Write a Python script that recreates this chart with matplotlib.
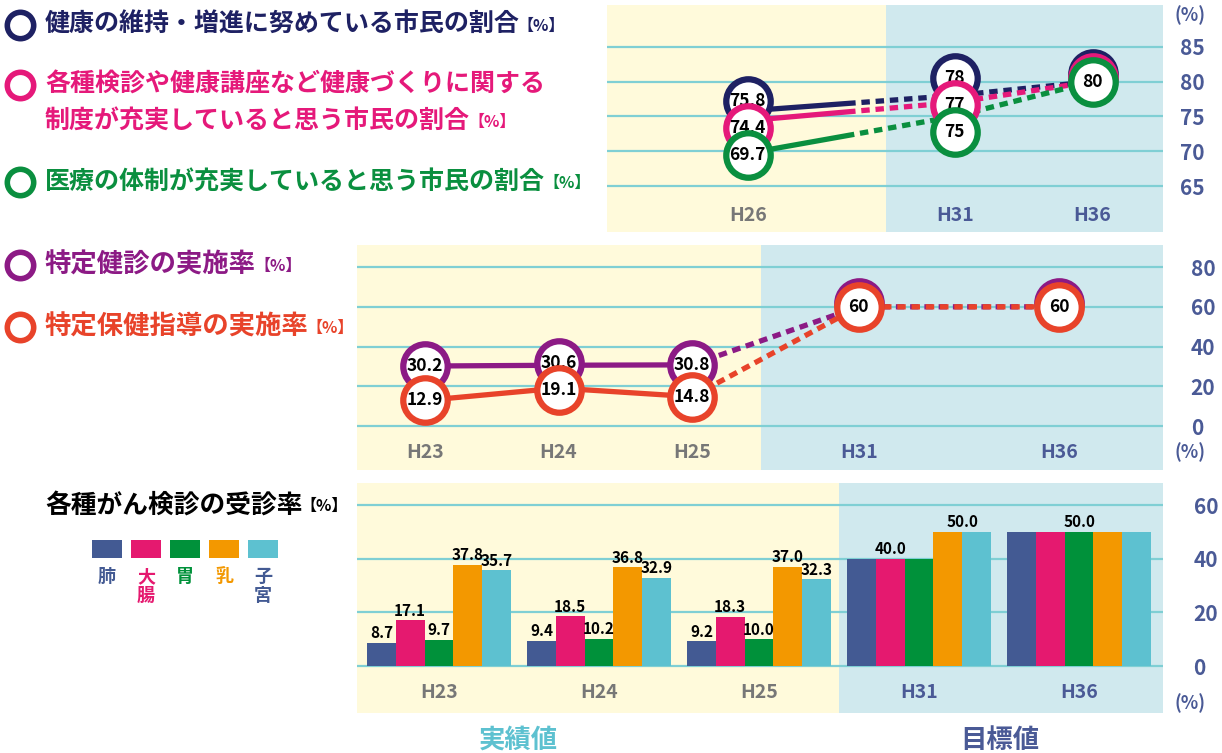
import numpy as np
import matplotlib.pyplot as plt
from matplotlib.patches import Rectangle
from matplotlib.transforms import offset_copy

plt.rcParams['font.family'] = ['Noto Sans CJK JP', 'DejaVu Sans']

W, H = 1222, 753

# --- data -------------------------------------------------------------
# top: citizen survey (H26 actual, H31/H36 targets)
years_top = ['H26', 'H31', 'H36']
health_keep = [75.8, 78, 80]     # 健康の維持・増進に努めている
checkup_sys = [74.4, 77, 80]     # 健康づくりに関する制度が充実
medical_sys = [69.7, 75, 80]     # 医療の体制が充実

# middle: specific health checkups
years_mid = ['H23', 'H24', 'H25', 'H31', 'H36']
kenshin_rate = [30.2, 30.6, 30.8, 60, 60]   # 特定健診の実施率
shido_rate = [12.9, 19.1, 14.8, 60, 60]     # 特定保健指導の実施率

# bottom: cancer screening rates
years_bar = ['H23', 'H24', 'H25', 'H31', 'H36']
cancer_types = ['肺', '大腸', '胃', '乳', '子宮']
lung = [8.7, 9.4, 9.2, 40.0, 50.0]
colon = [17.1, 18.5, 18.3, 40.0, 50.0]
stomach = [9.7, 10.2, 10.0, 40.0, 50.0]
breast = [37.8, 36.8, 37.0, 50.0, 50.0]
uterus = [35.7, 32.9, 32.3, 50.0, 50.0]

# --- styling ----------------------------------------------------------
YELLOW = '#fffadb'
BLUE_BG = '#d0e9ee'
GRID = '#7fcfd4'
TICK = '#4a5a96'
GREY = '#777777'
NAVY = '#1e2163'
PINK = '#e5197a'
GREEN = '#0a8f3f'
PURPLE = '#8c1a85'
RED = '#e8432a'
BAR_COLORS = ['#435a93', '#e5196f', '#00913a', '#f39800', '#5dc1d0']
LEG_TEXT = ['#435a93', '#e5196f', '#00913a', '#f39800', '#435a93']

fig = plt.figure(figsize=(W / 100, H / 100), dpi=100)


def px_axes(x0, y0, x1, y1):
    ax = fig.add_axes([x0 / W, 1 - y1 / H, (x1 - x0) / W, (y1 - y0) / H])
    for s in ax.spines.values():
        s.set_visible(False)
    ax.tick_params(axis='x', length=0, labelbottom=False)
    return ax


def setup_y(ax, ticks, pad):
    ax.set_yticks(ticks)
    ax.yaxis.tick_right()
    ax.tick_params(axis='y', length=0, pad=pad, labelsize=15, labelcolor=TICK)
    for lbl in ax.get_yticklabels():
        lbl.set_fontweight('bold')
    ax.grid(axis='y', color=GRID, lw=1.6)
    ax.set_axisbelow(True)


def badge_offsets(ax, xs, series, gap=27, stack=4):
    # vertical pixel nudges so the value badges in one column stay readable;
    # equal values stack with the later series in front
    n = len(series)
    offs = np.zeros((n, len(xs)))
    front = np.ones((n, len(xs)), dtype=bool)
    for j, xx in enumerate(xs):
        vals = [s[j] for s in series]
        ys = [ax.transData.transform((xx, v))[1] for v in vals]
        uniq = sorted(set(vals), reverse=True)
        gy = [ys[vals.index(u)] for u in uniq]
        pos = list(gy)
        for k in range(1, len(pos)):
            pos[k] = min(pos[k], pos[k - 1] - gap)
        shift = np.mean(np.array(gy) - np.array(pos))
        pos = [p + shift for p in pos]
        for i in range(n):
            k = uniq.index(vals[i])
            members = [m for m in range(n) if vals[m] == vals[i]]
            depth = len(members) - 1 - members.index(i)
            offs[i, j] = pos[k] - gy[k] + depth * stack
            front[i, j] = depth == 0
    return offs, front


def badges(ax, xs, vals, col, z, dys, show):
    for xx, v, dy, lab in zip(xs, vals, dys, show):
        tr = offset_copy(ax.transData, fig=fig, x=0, y=dy, units='dots')
        ax.plot(xx, v, 'o', ms=32, mfc='white', mec=col, mew=4.5,
                zorder=z, transform=tr)
        if lab:
            ax.text(xx, v, '{:g}'.format(v), ha='center', va='center',
                    fontsize=12.5, fontweight='bold', zorder=z + 0.1,
                    transform=tr)


def year_labels(ax, xs, labels, y, n_actual):
    for i, (xx, lab) in enumerate(zip(xs, labels)):
        ax.text(xx, y, lab, ha='center', va='center', fontsize=14,
                fontweight='bold', color=GREY if i < n_actual else TICK)


# --- top panel --------------------------------------------------------
ax1 = px_axes(607, 5, 1163, 232)
x1 = np.array([0, 1.5, 2.5])
xl1 = (-1.02, 3.01)
yl1 = (58.4, 91.0)
ax1.set_xlim(*xl1)
ax1.set_ylim(*yl1)
ax1.axvspan(xl1[0], 1.0, color=YELLOW, zorder=0, lw=0)
ax1.axvspan(1.0, xl1[1], color=BLUE_BG, zorder=0, lw=0)
setup_y(ax1, [65, 70, 75, 80, 85], 12)

split = (x1[0] + x1[1]) / 2
top_series = [(health_keep, NAVY), (checkup_sys, PINK), (medical_sys, GREEN)]
top_offs, top_front = badge_offsets(ax1, x1, [s for s, _ in top_series])
for k, (vals, col) in enumerate(top_series):
    solid, = ax1.plot(x1, vals, color=col, lw=3.8, zorder=2,
                      solid_capstyle='butt')
    solid.set_clip_path(Rectangle((xl1[0], yl1[0]), split - xl1[0],
                                  yl1[1] - yl1[0], transform=ax1.transData))
    dash, = ax1.plot(x1, vals, color=col, lw=3.8, ls=(0, (1.6, 1.1)),
                     zorder=2, dash_capstyle='butt')
    dash.set_clip_path(Rectangle((split, yl1[0]), xl1[1] - split,
                                 yl1[1] - yl1[0], transform=ax1.transData))
    badges(ax1, x1, vals, col, 3 + k, top_offs[k], top_front[k])
year_labels(ax1, x1, years_top, 60.8, 1)

# --- middle panel -----------------------------------------------------
ax2 = px_axes(357, 245, 1163, 470)
x2 = np.array([0, 1, 2, 3.25, 4.75])
xl2 = (-0.51, 5.53)
ax2.set_xlim(*xl2)
ax2.set_ylim(-22.1, 91.1)
ax2.axvspan(xl2[0], 2.52, color=YELLOW, zorder=0, lw=0)
ax2.axvspan(2.52, xl2[1], color=BLUE_BG, zorder=0, lw=0)
setup_y(ax2, [0, 20, 40, 60, 80], 20)

n_act = 3
mid_series = [(kenshin_rate, PURPLE), (shido_rate, RED)]
mid_offs, mid_front = badge_offsets(ax2, x2, [s for s, _ in mid_series])
for k, (vals, col) in enumerate(mid_series):
    ax2.plot(x2[:n_act], vals[:n_act], color=col, lw=3.8, zorder=2)
    ax2.plot(x2[n_act - 1:], vals[n_act - 1:], color=col, lw=3.8,
             ls=(0, (1.6, 1.1)), zorder=2, dash_capstyle='butt')
    badges(ax2, x2, vals, col, 3 + k, mid_offs[k], mid_front[k])
year_labels(ax2, x2, years_mid, -13.1, n_act)

# --- bottom panel -----------------------------------------------------
ax3 = px_axes(357, 483, 1163, 713)
xb = np.arange(len(years_bar))
xl3 = (-0.5125, 4.525)
ax3.set_xlim(*xl3)
ax3.set_ylim(-17.5, 68.2)
ax3.axvspan(xl3[0], 2.5, color=YELLOW, zorder=0, lw=0)
ax3.axvspan(2.5, xl3[1], color=BLUE_BG, zorder=0, lw=0)
setup_y(ax3, [0, 20, 40, 60], 22)

bw = 0.18
bar_series = [lung, colon, stomach, breast, uterus]
for i, (vals, col) in enumerate(zip(bar_series, BAR_COLORS)):
    ax3.bar(xb + (i - 2) * bw, vals, width=bw, color=col, zorder=3, lw=0)

lab_kw = dict(ha='center', va='bottom', fontsize=11, fontweight='bold',
              zorder=4)
for g in range(len(years_bar)):
    vals = [s[g] for s in bar_series]
    if g < n_act:
        for i, v in enumerate(vals):
            ax3.text(g + (i - 2) * bw, v + 0.6, '%.1f' % v, **lab_kw)
    else:
        # target years: one label per run of equal values
        start = 0
        for i in range(1, len(vals) + 1):
            if i == len(vals) or vals[i] != vals[start]:
                mid = (start + i - 1) / 2
                ax3.text(g + (mid - 2) * bw, vals[start] + 0.6,
                         '%.1f' % vals[start], **lab_kw)
                start = i
year_labels(ax3, xb, years_bar, -10, n_act)

# --- annotations in figure pixels ---------------------------------------
ov = fig.add_axes([0, 0, 1, 1], zorder=10)
ov.set_xlim(0, W)
ov.set_ylim(H, 0)
ov.axis('off')

for y in [15, 452, 703]:
    ov.text(1190, y, '(%)', ha='center', va='center', fontsize=13,
            fontweight='bold', color=TICK)

fig.canvas.draw()
renderer = fig.canvas.get_renderer()


def header(y, lines, col, size=18, ring=True):
    if ring:
        ov.plot(20, y, 'o', ms=19, mfc='white', mec=col, mew=4)
    last = None
    for i, line in enumerate(lines):
        last = ov.text(45, y + i * 36, line, ha='left', va='center',
                       fontsize=size, fontweight='bold', color=col)
    bb = last.get_window_extent(renderer)
    ov.text(bb.x1 - 2, y + (len(lines) - 1) * 36 + 1, '【%】', ha='left',
            va='center', fontsize=11.5, fontweight='bold', color=col)


header(25, ['健康の維持・増進に努めている市民の割合'], NAVY)
header(85, ['各種検診や健康講座など健康づくりに関する',
            '制度が充実していると思う市民の割合'], PINK)
header(182, ['医療の体制が充実していると思う市民の割合'], GREEN)
header(265, ['特定健診の実施率'], PURPLE, size=19)
header(327, ['特定保健指導の実施率'], RED, size=19)
header(505, ['各種がん検診の受診率'], 'black', size=18.5, ring=False)

# cancer type legend
for i, (name, col, tcol) in enumerate(zip(cancer_types, BAR_COLORS, LEG_TEXT)):
    x0 = 92 + i * 39
    ov.add_patch(Rectangle((x0, 540), 30, 18, color=col, lw=0))
    ov.text(x0 + 15, 567, '\n'.join(name), ha='center', va='top',
            fontsize=13, fontweight='bold', color=tcol, linespacing=1.0)

ov.text(518, 740, '実績値', ha='center', va='center', fontsize=19,
        fontweight='bold', color='#5dc1d0')
ov.text(1000, 740, '目標値', ha='center', va='center', fontsize=19,
        fontweight='bold', color=TICK)

fig.savefig('out.png', dpi=100)
